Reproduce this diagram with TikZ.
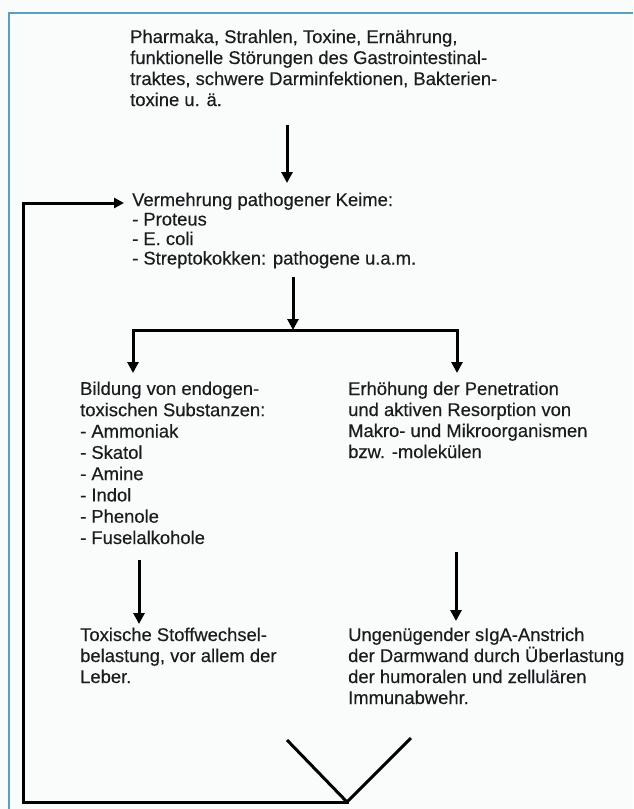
\documentclass[tikz,border=0pt]{standalone}
\usepackage{fontspec}
\setmainfont[FakeBold=0.35]{Liberation Sans}
\usetikzlibrary{arrows.meta}
\definecolor{frameblue}{RGB}{88,160,192}
\definecolor{bg}{RGB}{250,252,252}
\definecolor{ink}{RGB}{28,28,30}
\tikzset{
  txt/.style={anchor=base west, inner sep=0pt, align=left, text=ink,
    font=\fontsize{18.4}{21}\selectfont},
  flow/.style={line width=3pt, draw=black, -{Triangle[width=11pt,length=11pt]}},
  wire/.style={line width=3pt, draw=black, line cap=rect},
}
\begin{document}
\begin{tikzpicture}[x=1pt,y=-1pt]
\useasboundingbox (0,0) rectangle (633,809);
\fill[bg] (0,0) rectangle (633,809);
\draw[frameblue, line width=2.8pt] (9,809) -- (9,13) -- (633,13);

% base anchor = baseline of the last line
\node[txt] (top) at (130,106) {Pharmaka, Strahlen, Toxine, Ernährung,\\
funktionelle Störungen des Gastrointestinal-\\
traktes, schwere Darminfektionen, Bakterien-\\
toxine u. ä.};

\node[txt, font=\fontsize{18.4}{19.5}\selectfont] (verm) at (132,264.5) {Vermehrung pathogener Keime:\\
- Proteus\\
- E. coli\\
- Streptokokken: pathogene u.a.m.};

\node[txt, font=\fontsize{18.4}{21.3}\selectfont] (bild) at (80,544) {Bildung von endogen-\\
toxischen Substanzen:\\
- Ammoniak\\
- Skatol\\
- Amine\\
- Indol\\
- Phenole\\
- Fuselalkohole};

\node[txt] (erh) at (348,458) {Erhöhung der Penetration\\
und aktiven Resorption von\\
Makro- und Mikroorganismen\\
bzw. -molekülen};

\node[txt] (toxs) at (80,683) {Toxische Stoffwechsel-\\
belastung, vor allem der\\
Leber.};

\node[txt] (ung) at (348,704) {Ungenügender sIgA-Anstrich\\
der Darmwand durch Überlastung\\
der humoralen und zellulären\\
Immunabwehr.};

% connector points
\coordinate (a1s) at (287,125);
\coordinate (a1e) at (287,183);
\coordinate (a2s) at (293,277);
\coordinate (a2e) at (293,330);
\coordinate (bl) at (133,330);
\coordinate (br) at (457,330);
\coordinate (blE) at (133,373);
\coordinate (brE) at (457,373);
\coordinate (a3s) at (139,560);
\coordinate (a3e) at (139,624);
\coordinate (a4s) at (456,552);
\coordinate (a4e) at (456,621);
\coordinate (fbA) at (23,203);
\coordinate (fbB) at (23,802);
\coordinate (fbE) at (124,203);
\coordinate (vL) at (287,740);
\coordinate (vB) at (347,802);
\coordinate (vR) at (411,738);

\draw[flow] (a1s) -- (a1e);
\draw[flow] (a2s) -- (a2e);
\draw[wire] (bl) -- (br);
\draw[flow] (bl) -- (blE);
\draw[flow] (br) -- (brE);
\draw[flow] (a3s) -- (a3e);
\draw[flow] (a4s) -- (a4e);
\draw[wire] (vB) -- (fbB) -- (fbA);
\draw[line width=3pt, -{Triangle[width=10pt,length=10pt]}] (fbA) -- (fbE);
\draw[line width=3pt, line join=miter] (vL) -- (vB) -- (vR);
\end{tikzpicture}
\end{document}
